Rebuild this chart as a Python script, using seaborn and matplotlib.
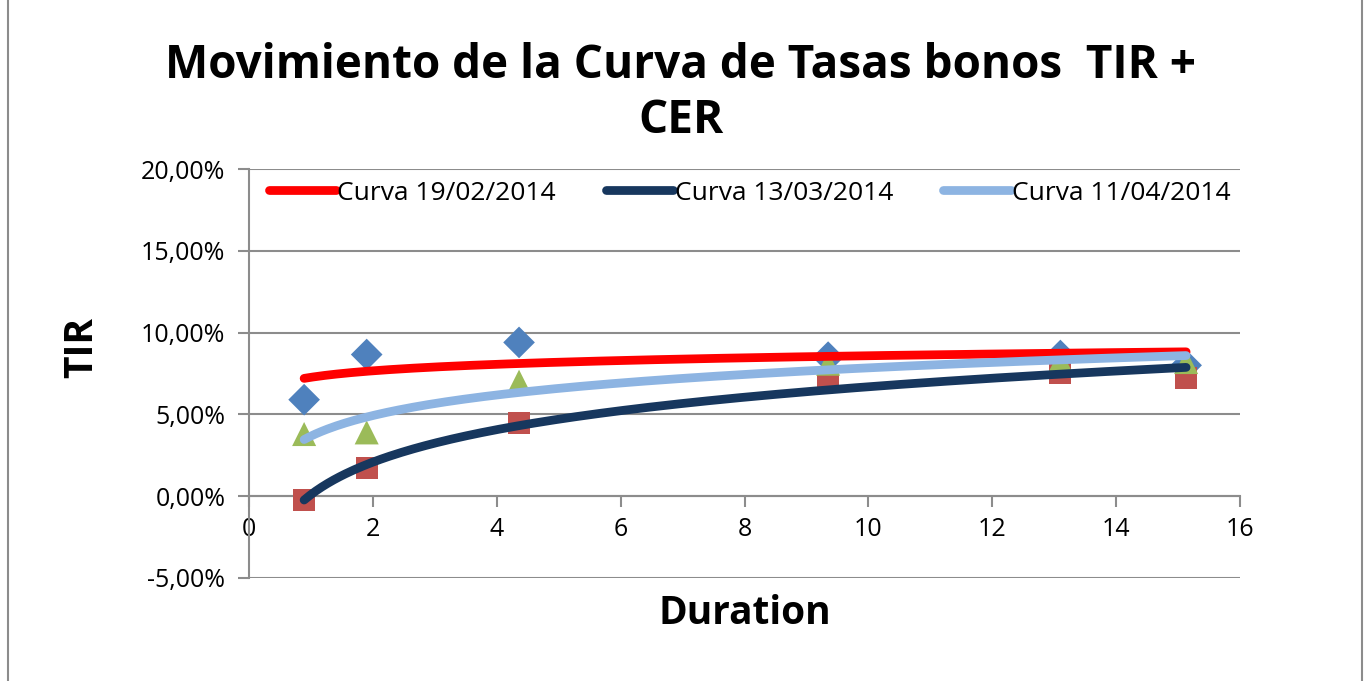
import numpy as np
import pandas as pd
import matplotlib
matplotlib.use("Agg")
import matplotlib.pyplot as plt
import seaborn as sns
from matplotlib.ticker import FuncFormatter, MultipleLocator
from matplotlib.lines import Line2D

# bond durations and TIR (in %)
duration = [0.89, 1.9, 4.36, 9.35, 13.1, 15.13]
tir_19feb = [5.9, 8.66, 9.4, 8.5, 8.6, 8.0]
tir_13mar = [-0.25, 1.7, 4.45, 7.25, 7.5, 7.2]
tir_11abr = [3.8, 3.9, 7.0, 8.1, 8.3, 8.2]

curve_names = ["Curva 19/02/2014", "Curva 13/03/2014", "Curva 11/04/2014"]
point_colors = ["#4F81BD", "#C0504D", "#9BBB59"]
point_markers = ["D", "s", "^"]
point_sizes = [260, 250, 300]
curve_colors = ["#FF0000", "#17375E", "#8DB4E2"]

series = [tir_19feb, tir_13mar, tir_11abr]

sns.set_style("white")
plt.rcParams["font.family"] = ["Open Sans", "DejaVu Sans"]
plt.rcParams["text.color"] = "black"
plt.rcParams["axes.labelcolor"] = "black"

fig = plt.figure(figsize=(13.7, 6.81), dpi=100)
ax = fig.add_axes([249 / 1370, 1 - 578 / 681, (1240 - 249) / 1370, (578 - 169) / 681])

# scatter points (one per series)
rows = []
for name, ys in zip(curve_names, series):
    for x, y in zip(duration, ys):
        rows.append({"curva": name, "duration": x, "tir": y / 100})
pts = pd.DataFrame(rows)
for name, col, mk, sz in zip(curve_names, point_colors, point_markers, point_sizes):
    sub = pts[pts["curva"] == name]
    sns.scatterplot(data=sub, x="duration", y="tir", ax=ax, color=col,
                    marker=mk, s=sz, edgecolor="none", zorder=3, legend=False)

# logarithmic trendlines fitted on each series
xs = np.linspace(min(duration), max(duration), 300)
fit_rows = []
for name, ys in zip(curve_names, series):
    b, a = np.polyfit(np.log(duration), np.array(ys) / 100, 1)
    for x in xs:
        fit_rows.append({"curva": name, "duration": x, "tir": a + b * np.log(x)})
fits = pd.DataFrame(fit_rows)
sns.lineplot(data=fits, x="duration", y="tir", hue="curva", palette=curve_colors,
             hue_order=curve_names, linewidth=6.3, ax=ax, zorder=4, legend=False,
             solid_capstyle="round")

ax.set_xlim(0, 16)
ax.set_ylim(-0.05, 0.20)
ax.xaxis.set_major_locator(MultipleLocator(2))
ax.yaxis.set_major_locator(MultipleLocator(0.05))
ax.yaxis.set_major_formatter(FuncFormatter(lambda v, p: f"{v * 100:.2f}%".replace(".", ",")))

ax.grid(axis="y", color="#8C8C8C", linewidth=1.5)
ax.grid(axis="x", visible=False)
for s in ["top", "right"]:
    ax.spines[s].set_visible(False)
ax.spines["left"].set_color("#8C8C8C")
ax.spines["left"].set_linewidth(1.5)
ax.spines["bottom"].set_position(("data", 0))
ax.spines["bottom"].set_color("#8C8C8C")
ax.spines["bottom"].set_linewidth(1.5)
ax.tick_params(axis="both", direction="out", length=8, width=1.5, color="#8C8C8C",
               labelsize=18, labelcolor="black", bottom=True, left=True)
ax.tick_params(axis="y", pad=9)
ax.tick_params(axis="x", pad=7)

ax.set_xlabel("Duration", fontsize=28, fontweight="bold")
ax.xaxis.label.set_va("center")
ax.xaxis.set_label_coords(0.5, (578 - 613) / 409)
ax.set_ylabel("TIR", fontsize=28, fontweight="bold")
ax.yaxis.label.set_va("center")
ax.yaxis.set_label_coords((82 - 249) / 991, (578 - 347) / 409)

fig.text(0.497, 1 - 93 / 681, "Movimiento de la Curva de Tasas bonos  TIR +\nCER",
         fontsize=33, fontweight="bold", ha="center", va="center", linespacing=1.2)

handles = [Line2D([0], [0], color=c, linewidth=6.3, solid_capstyle="round") for c in curve_colors]
ax.legend(handles, curve_names, loc="center left", bbox_to_anchor=(0.02, (578 - 193) / 409),
          ncol=3, frameon=False, fontsize=19, handlelength=2.55, handletextpad=0.05,
          columnspacing=1.9, borderpad=0, borderaxespad=0)

# outer chart border
fig.add_artist(Line2D([0.006, 0.006], [0, 1], transform=fig.transFigure, color="#8C8C8C", linewidth=1.5))
fig.add_artist(Line2D([0.994, 0.994], [0, 1], transform=fig.transFigure, color="#8C8C8C", linewidth=1.5))

fig.savefig("out.png", dpi=100)
